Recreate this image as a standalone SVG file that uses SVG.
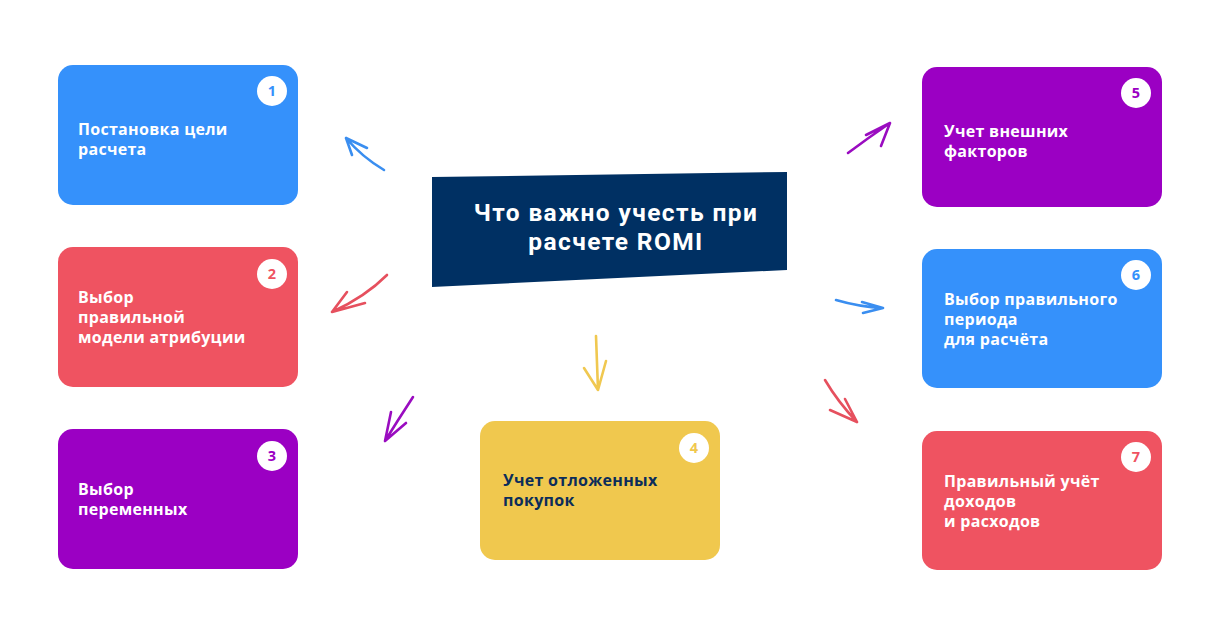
<svg xmlns="http://www.w3.org/2000/svg" width="1220" height="633" viewBox="0 0 1220 633">
<style>
.lbl{font-family:"Open Sans","Liberation Sans",sans-serif;font-weight:700;font-size:16px;letter-spacing:0.3px;fill:#ffffff}
.dark{fill:#0b2d5a}
.num{font-family:"Open Sans","Liberation Sans",sans-serif;font-weight:700;font-size:14.5px;text-anchor:middle}
.title{font-family:Roboto,"Liberation Sans",sans-serif;font-weight:700;font-size:24.5px;letter-spacing:1.4px;fill:#ffffff;text-anchor:middle}
.arr{fill:none;stroke-width:2.6;stroke-linecap:round;stroke-linejoin:round}
.blue{fill:#3591fb}.red{fill:#ef5361}.purple{fill:#9b00c3}.yellow{fill:#f0c84e}
.sblue{stroke:#3a8ef0}.sred{stroke:#e6505e}.spurple{stroke:#9a0cc0}.syellow{stroke:#f0c850}
.circ{fill:#ffffff}
</style>
<rect width="1220" height="633" fill="#ffffff"/>
<g id="center">
<polygon points="432,177 787,172 787,270 432,287" fill="#003063"/>
<text class="title" x="616" y="220.5">Что важно учесть при</text>
<text class="title" x="616" y="249.5">расчете ROMI</text>
</g>
<g id="node1">
<rect class="blue" x="58" y="65" width="240" height="140" rx="15"/>
<circle class="circ" cx="272" cy="91" r="15"/>
<text class="num" x="272" y="96" fill="#3591fb">1</text>
<text class="lbl" x="78" y="135">Постановка цели</text>
<text class="lbl" x="78" y="155">расчета</text>
</g>
<g id="node2">
<rect class="red" x="58" y="247" width="240" height="140" rx="15"/>
<circle class="circ" cx="272" cy="274" r="15"/>
<text class="num" x="272" y="279" fill="#ef5361">2</text>
<text class="lbl" x="78" y="303">Выбор</text>
<text class="lbl" x="78" y="323">правильной</text>
<text class="lbl" x="78" y="343">модели атрибуции</text>
</g>
<g id="node3">
<rect class="purple" x="58" y="429" width="240" height="140" rx="15"/>
<circle class="circ" cx="272" cy="456" r="15"/>
<text class="num" x="272" y="461" fill="#9b00c3">3</text>
<text class="lbl" x="78" y="495">Выбор</text>
<text class="lbl" x="78" y="515">переменных</text>
</g>
<g id="node4">
<rect class="yellow" x="480" y="421" width="240" height="139" rx="15"/>
<circle class="circ" cx="694" cy="448" r="15"/>
<text class="num" x="694" y="453" fill="#f0c84e">4</text>
<text class="lbl dark" x="503" y="486">Учет отложенных</text>
<text class="lbl dark" x="503" y="506">покупок</text>
</g>
<g id="node5">
<rect class="purple" x="922" y="67" width="240" height="140" rx="15"/>
<circle class="circ" cx="1136" cy="93" r="15"/>
<text class="num" x="1136" y="98" fill="#9b00c3">5</text>
<text class="lbl" x="944" y="137">Учет внешних</text>
<text class="lbl" x="944" y="157">факторов</text>
</g>
<g id="node6">
<rect class="blue" x="922" y="249" width="240" height="139" rx="15"/>
<circle class="circ" cx="1136" cy="275" r="15"/>
<text class="num" x="1136" y="280" fill="#3591fb">6</text>
<text class="lbl" x="944" y="305">Выбор правильного</text>
<text class="lbl" x="944" y="325">периода</text>
<text class="lbl" x="944" y="345">для расчёта</text>
</g>
<g id="node7">
<rect class="red" x="922" y="431" width="240" height="139" rx="15"/>
<circle class="circ" cx="1136" cy="457" r="15"/>
<text class="num" x="1136" y="462" fill="#ef5361">7</text>
<text class="lbl" x="944" y="487">Правильный учёт</text>
<text class="lbl" x="944" y="507">доходов</text>
<text class="lbl" x="944" y="527">и расходов</text>
</g>
<g id="connectors">
<path class="arr sblue" d="M384,170 Q362,157 346,138 M346,138 L367,148 M346,138 L352,155"/>
<path class="arr sred" d="M387,275 Q365,297 332,312 M332,312 L347,292 M332,312 L365,303"/>
<path class="arr spurple" d="M413,397 Q398,420 385,441 M385,441 L391,412 M385,441 L406,423"/>
<path class="arr syellow" d="M596,336 L598,390 M598,390 L584,368 M598,390 L606,361"/>
<path class="arr spurple" d="M848,153 Q868,138 890,123 M890,123 L866,135 M890,123 L881,146"/>
<path class="arr sblue" d="M836,300 Q860,307 883,308 M883,308 L862,302 M883,308 L863,313"/>
<path class="arr sred" d="M825,380 Q838,402 857,422 M857,422 L830,410 M857,422 L845,399"/>
</g>
</svg>
